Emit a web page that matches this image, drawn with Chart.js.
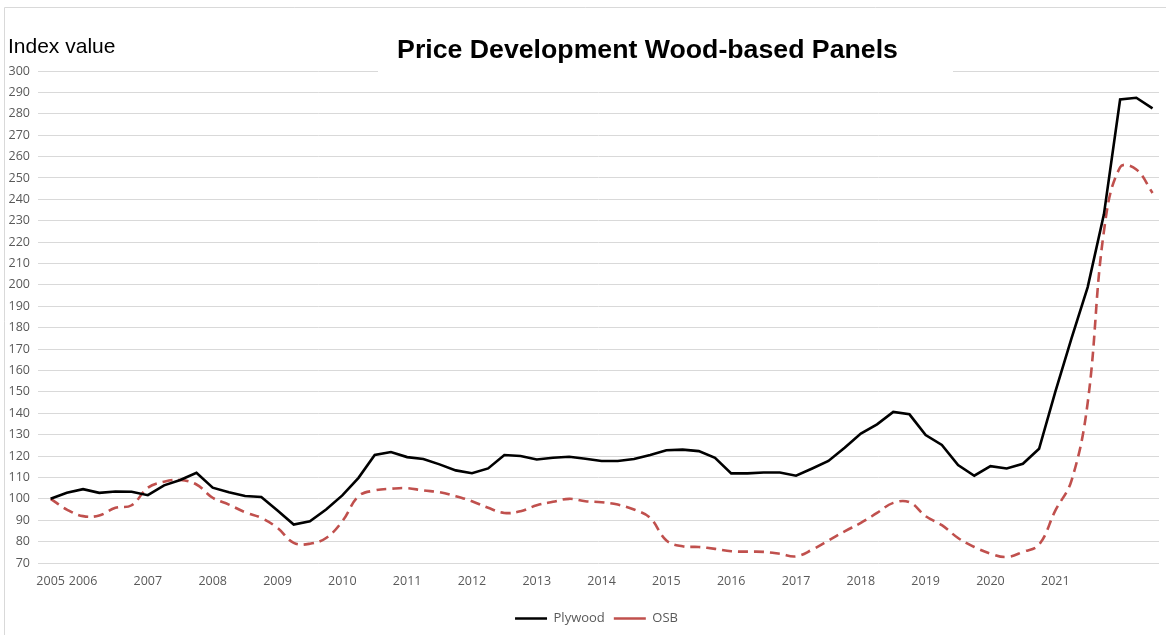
<!DOCTYPE html>
<html>
<head>
<meta charset="utf-8">
<script src="https://cdn.jsdelivr.net/npm/chart.js@4/dist/chart.umd.min.js"></script>
<style>
html,body{margin:0;padding:0;background:#fff;overflow:hidden}
canvas{display:block}
</style>
</head>
<body>
<canvas id="c" width="1166" height="635"></canvas>
<script>
const chartTitle = 'Price Development Wood-based Panels';
const yAxisTitle = 'Index value';

// Category labels (quarterly points; only some carry a year label, as in the original)
const xLabels = [
  '2005',
  '', '2006', '', '',
  '', '2007', '', '',
  '', '2008', '', '',
  '', '2009', '', '',
  '', '2010', '', '',
  '', '2011', '', '',
  '', '2012', '', '',
  '', '2013', '', '',
  '', '2014', '', '',
  '', '2015', '', '',
  '', '2016', '', '',
  '', '2017', '', '',
  '', '2018', '', '',
  '', '2019', '', '',
  '', '2020', '', '',
  '', '2021', '', '',
  '', '', '', ''
];

const plywood = [
  100,
  102.8, 104.5, 102.8, 103.4,
  103.3, 101.7, 106.3, 108.8,
  112.2, 105.2, 103.1, 101.3,
  100.9, 94.5, 88.0, 89.5,
  95.0, 101.6, 109.8, 120.5,
  121.9, 119.5, 118.6, 116.1,
  113.3, 112.0, 114.2, 120.5,
  120.0, 118.4, 119.2, 119.7,
  118.75, 117.7, 117.7, 118.6,
  120.5, 122.7, 123.0, 122.3,
  119.2, 111.9, 111.9, 112.3,
  112.3, 110.8, 114.2, 117.7,
  123.9, 130.5, 134.8, 140.6,
  139.5, 129.8, 125.2, 115.8,
  110.8, 115.3, 114.2, 116.4,
  123.4, 150, 175, 199,
  233, 286.7, 287.5, 282.5
];

const osb = [
  100,
  95, 91.9, 92.2, 95.8,
  97, 105.2, 108, 108.8,
  106.7, 100.5, 97.3, 93.75,
  91.1, 86.4, 79.4, 79,
  81.7, 89.5, 101.25, 103.9,
  104.7, 105, 103.9, 103.1,
  101.25, 98.9, 95.8, 93.4,
  94.2, 97.0, 98.6, 100,
  98.9, 98.4, 97.3, 95.0,
  91.1, 80.5, 77.8, 77.5,
  76.6, 75.5, 75.3, 75.2,
  74.3, 73.1, 76.25, 80.5,
  84.8, 88.75, 93.4, 98.1,
  98.4, 91.9, 87.7, 81.7,
  77.5, 74.4, 72.8, 75.2,
  78.6, 94.5, 108.5, 145,
  225, 255, 254, 243
];

const yMin = 70, yMax = 300, yStep = 10;

const tickFont = {family: "'Open Sans', sans-serif", size: 12.5};
const legendFont = {family: "'Open Sans', sans-serif", size: 13};
const tickColor = '#595959';
const gridColor = '#d9d9d9';

const overlay = {
  id: 'overlay',
  afterLayout(chart) {
    if (chart.legend) {
      chart.legend.left += 17;
      chart.legend.right += 17;
    }
  },
  beforeDatasetsDraw(chart) {
    const ctx = chart.ctx;
    ctx.save();
    ctx.fillStyle = '#ffffff';
    ctx.fillRect(378, 16, 575, 66);
    ctx.restore();
  },
  afterDraw(chart) {
    const ctx = chart.ctx;
    ctx.save();
    // frame
    ctx.strokeStyle = gridColor;
    ctx.lineWidth = 1;
    ctx.beginPath();
    ctx.moveTo(4.5, 635);
    ctx.lineTo(4.5, 7.5);
    ctx.lineTo(1166, 7.5);
    ctx.stroke();
    // title
    ctx.fillStyle = '#000000';
    ctx.font = "bold 26.7px 'Liberation Sans', Arial, sans-serif";
    ctx.textAlign = 'center';
    ctx.textBaseline = 'alphabetic';
    ctx.fillText(chartTitle, 647.5, 58);
    // axis title
    ctx.font = "21px 'Liberation Sans', Arial, sans-serif";
    ctx.textAlign = 'left';
    ctx.fillText(yAxisTitle, 8, 53);
    ctx.restore();
  }
};

new Chart(document.getElementById('c'), {
  type: 'line',
  data: {
    labels: xLabels,
    datasets: [
      {
        label: 'Plywood',
        data: plywood.map((v, i) => ({x: i, y: v})),
        borderColor: '#000000',
        backgroundColor: '#000000',
        borderWidth: 2.6,
        pointRadius: 0,
        tension: 0,
        fill: false
      },
      {
        label: 'OSB',
        data: osb.map((v, i) => ({x: i, y: v})),
        borderColor: '#C0504D',
        backgroundColor: '#C0504D',
        borderWidth: 2.6,
        borderDash: [10, 6],
        pointRadius: 0,
        tension: 0.4,
        fill: false
      }
    ]
  },
  options: {
    responsive: false,
    animation: false,
    devicePixelRatio: 1,
    layout: {padding: {top: 71, left: 0, right: 7, bottom: 0}},
    plugins: {
      legend: {
        position: 'bottom',
        labels: {
          usePointStyle: true,
          pointStyle: 'line',
          pointStyleWidth: 32,
          font: legendFont,
          color: tickColor,
          padding: 9
        }
      },
      tooltip: {enabled: false},
      title: {display: false}
    },
    scales: {
      x: {
        type: 'linear',
        min: -0.78,
        max: 68.4,
        grid: {display: false},
        border: {display: false},
        afterBuildTicks: (s) => {
          s.ticks = xLabels.map((l, i) => (l ? {value: i} : null)).filter(Boolean);
        },
        afterFit: (s) => { s.height = 40; },
        ticks: {
          autoSkip: false,
          maxRotation: 0,
          padding: 3,
          font: tickFont,
          color: tickColor,
          callback: (v) => xLabels[v]
        }
      },
      y: {
        min: yMin,
        max: yMax,
        afterFit: (s) => { s.width = 38; },
        ticks: {stepSize: yStep, padding: 8, font: tickFont, color: tickColor},
        grid: {color: gridColor, drawTicks: false},
        border: {display: false}
      }
    }
  },
  plugins: [overlay]
});
</script>
</body>
</html>
